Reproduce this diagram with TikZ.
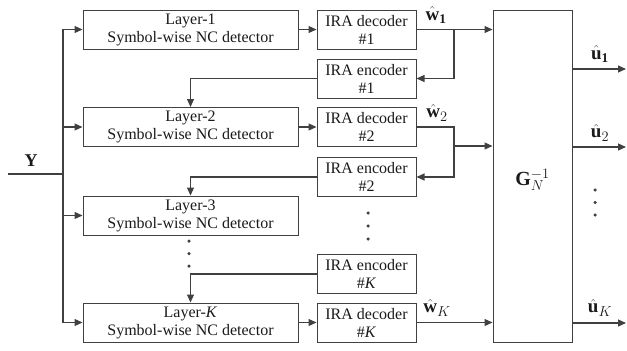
\documentclass[tikz,border=0pt]{standalone}
\usepackage{fontspec}
\setmainfont{Liberation Serif}
\usetikzlibrary{arrows.meta}
\definecolor{ln}{HTML}{404040}
\definecolor{tx}{HTML}{1A1A1A}
\begin{document}
\begin{tikzpicture}[x=1pt,y=-1pt,
  line width=1.2pt,
  every node/.style={text=tx, font=\fontsize{16}{18}\selectfont},
  blk/.style={draw=ln, line width=1pt, inner sep=0pt, align=center},
  layerbox/.style={blk, minimum width=215pt, minimum height=39pt},
  irabox/.style={blk, minimum width=99pt, minimum height=39pt},
  conn/.style={draw=ln, line width=1.2pt},
  arr/.style={conn, -{Triangle[length=8pt,width=7pt]}},
  lbl/.style={inner sep=0pt, font=\fontsize{19}{20}\selectfont},
  dotc/.style={fill=ln, draw=none, circle, inner sep=0pt, minimum size=3.5pt}
]
\useasboundingbox (0,0) rectangle (627,351);

% layer detector boxes
\node[layerbox] (L1) at (190.5,29.5) {Layer-1\\Symbol-wise NC detector};
\node[layerbox] (L2) at (190.5,127) {Layer-2\\Symbol-wise NC detector};
\node[layerbox] (L3) at (190.5,215.5) {Layer-3\\Symbol-wise NC detector};
\node[layerbox] (LK) at (190.5,322.5) {Layer-\textit{K}\\Symbol-wise NC detector};

% IRA boxes
\node[irabox] (D1) at (366.5,29.5) {IRA decoder\\\#1};
\node[irabox] (E1) at (366.5,78.5) {IRA encoder\\\#1};
\node[irabox] (D2) at (366.5,127) {IRA decoder\\\#2};
\node[irabox] (E2) at (366.5,177) {IRA encoder\\\#2};
\node[irabox] (EK) at (366.5,274) {IRA encoder\\\#\textit{K}};
\node[irabox] (DK) at (366.5,322.5) {IRA decoder\\\#\textit{K}};

% G inverse box
\node[blk, minimum width=79pt, minimum height=332pt] (G) at (532.5,176) {};
\node[lbl, font=\fontsize{20}{22}\selectfont] (Glbl) at (532.5,180) {$\mathbf{G}_{N}^{-1}$};

% input Y and bus
\coordinate (yin) at (8,174);
\coordinate (bus) at (63,174);
\node[lbl, font=\fontsize{18}{20}\selectfont\bfseries] (Y) at (31,161) {Y};
\draw[conn] (yin) -- (bus);
\draw[arr] (bus) |- (L1.west);
\draw[arr] (bus) |- (L2.west);
\draw[arr] (bus) |- (L3.west);
\draw[arr] (bus) |- (LK.west);

% detectors to decoders
\draw[arr] (L1.east) -- (D1.west);
\draw[arr] (L2.east) -- (D2.west);
\draw[arr] (LK.east) -- (DK.west);

% decoder 1 output and feedback
\coordinate (b1) at (454,29.5);
\draw[arr] (D1.east) -- (D1.east -| G.west);
\draw[arr] (b1) |- (E1.east);
\draw[arr] (E1.west) -| (L2.north);

% decoder 2 output and feedback
\coordinate (b2) at (454,146);
\draw[arr] (D2.east) -| (b2) -- (b2 -| G.west);
\draw[arr] (b2) |- (E2.east);
\draw[arr] (E2.west) -| (L3.north);

% encoder K feedback
\draw[arr] (EK.west) -| (LK.north);

% decoder K output
\draw[arr] (DK.east) -- (DK.east -| G.west);

% outputs
\coordinate (o1) at (626,69);
\coordinate (o2) at (626,147);
\coordinate (oK) at (626,323);
\draw[arr] (G.east |- o1) -- (o1);
\draw[arr] (G.east |- o2) -- (o2);
\draw[arr] (G.east |- oK) -- (oK);

% labels
\node[lbl] (w1) at (436,15) {$\hat{\mathbf{w}}_{\mathbf{1}}$};
\node[lbl] (w2) at (437,113) {$\hat{\mathbf{w}}_{2}$};
\node[lbl] (wK) at (437,308) {$\hat{\mathbf{w}}_{K}$};
\node[lbl] (u1) at (600,54) {$\hat{\mathbf{u}}_{\mathbf{1}}$};
\node[lbl] (u2) at (600,133) {$\hat{\mathbf{u}}_{2}$};
\node[lbl] (uK) at (600,308) {$\hat{\mathbf{u}}_{K}$};

% dots
\node[dotc] (dl1) at (189,241) {};
\node[dotc] (dl2) at (189,253.5) {};
\node[dotc] (dl3) at (189,266) {};
\node[dotc] (dm1) at (368,213) {};
\node[dotc] (dm2) at (368,226) {};
\node[dotc] (dm3) at (368,239) {};
\node[dotc] (dr1) at (595,190) {};
\node[dotc] (dr2) at (595,202.5) {};
\node[dotc] (dr3) at (595,215) {};
\end{tikzpicture}
\end{document}
